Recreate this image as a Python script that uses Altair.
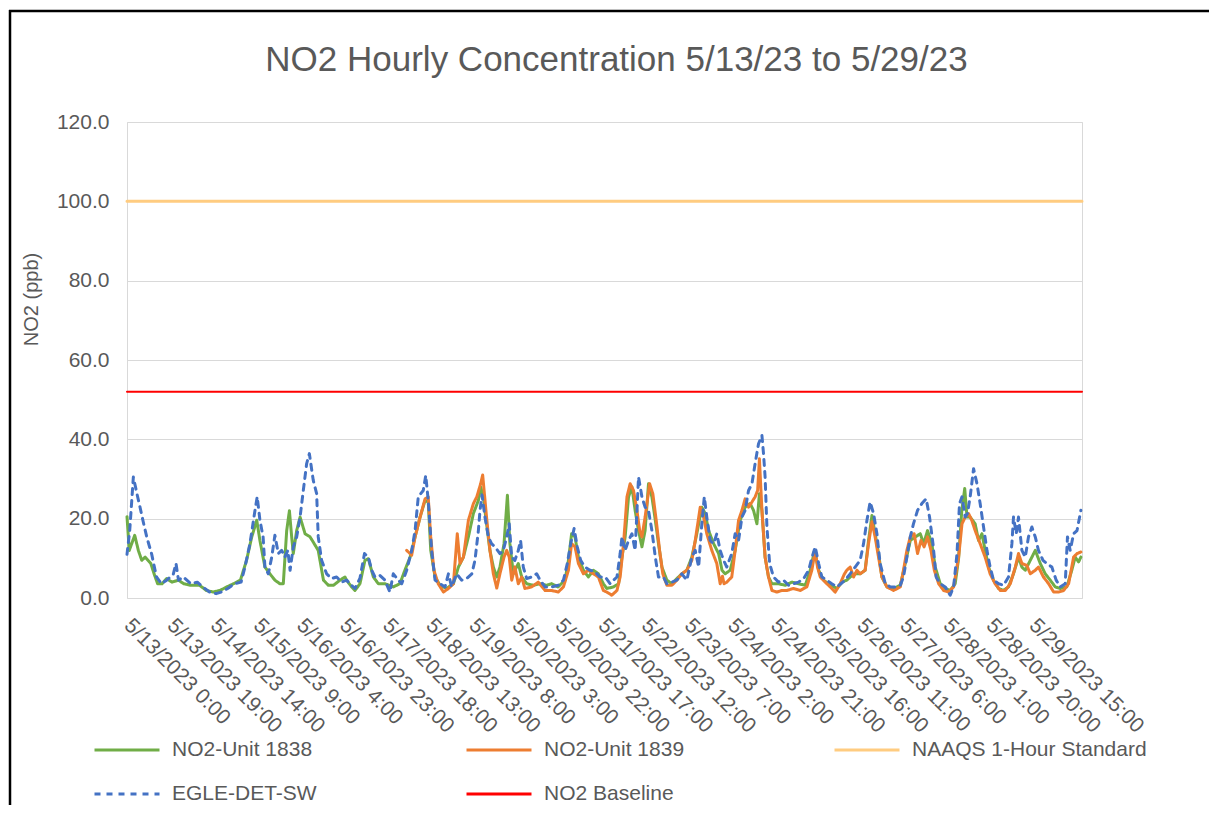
import json
import altair as alt
import pandas as pd

TITLE = "NO2 Hourly Concentration 5/13/23 to 5/29/23"
Y_TITLE = "NO2 (ppb)"
SERIES = ["NO2-Unit 1838", "NO2-Unit 1839", "NAAQS 1-Hour Standard", "EGLE-DET-SW", "NO2 Baseline"]
COLORS = ["#70AD47", "#ED7D31", "#FFCC80", "#4472C4", "#FF0000"]
DASHES = [[1, 0], [1, 0], [1, 0], [6, 6], [1, 0]]

TICK_LABELS = [
    "5/13/2023 0:00", "5/13/2023 19:00", "5/14/2023 14:00", "5/15/2023 9:00",
    "5/16/2023 4:00", "5/16/2023 23:00", "5/17/2023 18:00", "5/18/2023 13:00",
    "5/19/2023 8:00", "5/20/2023 3:00", "5/20/2023 22:00", "5/21/2023 17:00",
    "5/22/2023 12:00", "5/23/2023 7:00", "5/24/2023 2:00", "5/24/2023 21:00",
    "5/25/2023 16:00", "5/26/2023 11:00", "5/27/2023 6:00", "5/28/2023 1:00",
    "5/28/2023 20:00", "5/29/2023 15:00",
]
TICK_STEP_HOURS = 19
HOUR_DOMAIN = [0, 421]
Y_TICKS = [0, 20, 40, 60, 80, 100, 120]

# hours since 5/13/2023 0:00, values in ppb
u1838_hours = [0, 1, 3.4, 5, 6.5, 8, 10.5, 12, 13.5, 15.5, 17.5, 19.8, 22.7, 25, 28, 32, 35, 38, 41, 44, 47, 50,
               52.7, 55, 57.2, 58.6, 60.8, 63, 65.2, 67.4, 68.9, 70.4, 71.6, 72.6, 73.3, 74.8, 76.3, 78.5, 80.7,
               82.1, 84.3, 86.6, 88.8, 91, 93.9, 96.1, 96.8, 99, 100.5, 102.7, 104.9, 106.4, 108.6, 110.8, 113.7,
               117.4, 120.3, 122.5, 124.8, 127, 129.2, 131.4, 132.8, 133.9, 135.8, 138, 140.9, 143.9, 146.1, 148.3,
               150.5, 152.7, 154.9, 155.9, 157.1, 158.5, 160, 161.5, 163, 164.4, 166.2, 167.7, 168.8, 170.3, 172.5,
               174, 176.2, 179.1, 182, 185, 187.2, 190, 193.1, 194.6, 196, 197.5, 199, 201.2, 203.4, 205.6, 207.8,
               210, 211.5, 214.5, 216.7, 218.2, 219.6, 221.1, 222.6, 224, 225.5, 227, 228.4, 229.9, 231.4, 232.9,
               234.3, 235.8, 238, 240.2, 242.4, 244.6, 246.8, 249, 251.2, 253.4, 254.9, 256.4, 258.6, 260.8, 262.3,
               263.7, 265.9, 268.1, 270.3, 272.5, 274.7, 276.2, 277.7, 278.8, 279.9, 281.3, 282.8, 284.3, 287.2,
               290.2, 293.1, 296, 299, 301.2, 303.1, 304.9, 307.1, 310, 313, 315.2, 317.3, 318.8, 321, 323.2, 325.4,
               326.9, 328.4, 329.8, 331.3, 332.8, 335, 337.9, 340.9, 343.1, 345.3, 347.5, 349.7, 351.2, 352.9,
               354.8, 356.3, 358.5, 360.7, 362.9, 365.1, 366.6, 368, 369.3, 370.3, 371.7, 373.9, 375.4, 376.9,
               378.3, 379.8, 382, 384.2, 386.4, 388.6, 390.8, 393, 394.5, 396, 398.2, 400.4, 402.6, 404.8, 407,
               409.2, 411.4, 414.3, 416.5, 418, 419.5, 420.5]
u1838_values = [20.5, 12, 15.8, 12, 9.5, 10.3, 8.7, 6, 3.6, 3.6, 4.9, 4, 4.5, 3.6, 3.2, 3.2, 1.9, 1.5, 1.9, 2.8, 3.6, 4.5,
                9.5, 15.4, 19.6, 14.5, 7.8, 6.1, 4.5, 3.6, 3.6, 17, 22, 15.4, 11.2, 17, 20.4, 16.2, 15.4,
                14.1, 12, 4.5, 3.2, 3.2, 4.5, 5.3, 4.5, 2.8, 1.9, 3.6, 9.5, 9.9, 5.3, 3.6, 3.6,
                2.8, 3.6, 7, 10.3, 15.4, 20.4, 24.6, 24.2, 12, 5.3, 3.2, 2.4, 3.6, 7.8, 10.3,
                15.4, 21.3, 24.6, 28, 25.5, 18.7, 12, 7.8, 5.3, 7.8, 13.7, 25.9, 13.7, 6.1, 8.7,
                5.3, 3.6, 3.2, 3.6, 3.2, 3.6, 2.8, 4.5, 9.5, 16.2, 15.4, 10.3, 7, 5.3, 7, 6.1,
                3.6, 2.4, 2.8, 3.6, 10.3, 15.4, 25.5, 28, 22.1, 17, 12.9, 17, 28.8, 25.5, 19.6,
                13.7, 7.8, 4.5, 3.6, 4.9, 6.1, 7, 10.3, 16.2, 22.9, 21.3, 17, 13.7, 11.2, 7,
                6.1, 7, 12, 19.6, 22.9, 23.8, 22.1, 18.7, 26.3, 22.1, 10.3, 5.3, 3.6, 3.6,
                3.2, 4, 3.6, 3.2, 7, 12, 7, 4.5, 3.2, 2.4, 4, 4.5, 5.3, 6.1, 6.1, 7,
                14.5, 20.8, 16.2, 11.2, 5.3, 2.8, 2.4, 3.2, 8.7, 14.5, 15.4, 16.2, 13.7, 17,
                13.7, 7.8, 3.6, 2.4, 1.9, 3.6, 10, 22, 27.6, 20.4, 20.4, 18.7, 14.5, 16.2,
                12, 7.8, 4.5, 2.4, 1.9, 2.8, 6.1, 10.3, 7.8, 7, 9.5, 12, 8.7, 6.1, 4.5,
                2.8, 2.4, 2.8, 7, 10.3, 9.1, 10.3]

u1839_hours = [123.3, 125.5, 127, 129.2, 131.4, 132.8, 133.9, 135.3, 137.2, 139.5, 141.7, 143.9, 145.6, 146.8,
               148.3, 150.5, 152.7, 154.2, 155.9, 156.8, 158.5, 160, 161.5, 163, 164.4, 166.2, 167.4, 168.5, 169.6,
               171, 172.5, 174, 175.4, 178.4, 181.3, 184.3, 187.2, 190.1, 192.4, 194.6, 196, 197.5, 199, 201.2,
               203.4, 205.6, 207.8, 210, 211.5, 213.7, 216, 217.4, 218.9, 220.4, 221.8, 223.3, 224.8, 226, 227,
               228.4, 230.4, 231.8, 233.3, 234.8, 236.2, 238, 240.2, 242.4, 244.6, 246.8, 249, 250.5, 252.7, 254.2,
               255.6, 257.8, 260, 261.5, 262.5, 263.2, 264.4, 266.6, 268.1, 269.6, 271.1, 272.5, 274, 275.5, 276.9,
               278, 278.8, 279.9, 281.3, 282.8, 284.3, 286.5, 288.7, 290.9, 293.8, 296.8, 299.7, 301.9, 303.4,
               304.4, 305.6, 307.8, 310, 312.2, 314.4, 316.2, 317.3, 318.8, 320.3, 321.8, 323.2, 325.4, 326.9,
               328.4, 329.8, 331.3, 332.8, 335, 337.9, 340.9, 342.3, 343.8, 345.3, 347, 348.5, 350, 351.4, 352.9,
               354.4, 355.9, 357.8, 360, 362.2, 364.4, 366.6, 368.1, 369.5, 371, 372.4, 373.9, 376.1, 378.3, 380.5,
               382.7, 385, 387.2, 389.4, 391.6, 393, 394.5, 396.7, 398.2, 400.4, 401.8, 404, 406.3, 408.5, 410.7,
               412.9, 415.1, 417.3, 418.8, 420.5]
u1839_values = [12, 10.8, 15.4, 20.4, 25, 25.5, 15.4, 7, 3.6, 1.5, 2.4, 3.6, 16.2, 8.7,
                10.3, 19.6, 23.8, 25.5, 28.8, 31, 20.4, 12, 6.1, 2.5, 6.1, 10.3, 12, 10.3, 4.5,
                7.8, 3.6, 5.3, 2.4, 2.8, 4, 1.9, 1.9, 1.5, 2.8, 7, 13.7, 12.9, 8.7, 6.1,
                7, 6.1, 5.3, 1.9, 1.5, 0.7, 1.9, 5.3, 13.7, 25.5, 28.8, 27.1, 22.1, 17, 15.4,
                20.4, 28.8, 26.3, 19.6, 12, 6.1, 3.2, 3.2, 4.5, 6.1, 7, 9.5, 14.5, 22.9, 20.4,
                16.2, 12, 8.7, 3.6, 5.5, 3.6, 4, 5.3, 12, 19.6, 22.1, 25, 22.9, 24.2, 25.5,
                27.1, 35.1, 22.1, 10.3, 5.3, 1.9, 1.5, 1.9, 1.9, 2.4, 1.9, 2.8, 7, 12,
                7.8, 5.3, 4, 2.8, 1.5, 3.6, 6, 7, 7.8, 5.3, 7, 6.1, 7, 13.7,
                19.2, 15.4, 10.3, 5.3, 2.8, 1.9, 2.8, 7, 12, 15.4, 16.2, 11.2, 14.5, 12.9, 15.4,
                12, 7, 3.6, 1.9, 1.5, 2.8, 10.3, 18.7, 20.4, 21.3, 19.6, 17, 13.7, 10.3, 6.1,
                3.6, 1.9, 1.9, 3.6, 7.8, 11.2, 8.7, 8.2, 6.1, 7, 7.8, 5.3, 3.6, 1.5, 1.5,
                1.9, 3.6, 10.3, 11.2, 11.6]

egle_hours = [0, 1.2, 2.8, 4.5, 5.7, 7, 8.7, 10.9, 13, 15.2, 17.5, 20.4, 21.6, 22.7, 24.8, 28.1, 31, 33.4, 36.4,
              39.3, 41.5, 44.4, 47.4, 50.3, 52, 54.2, 56.4, 57.4, 58.6, 60, 60.8, 62.3, 63.8, 65.2, 66.7, 68.2,
              69.6, 70.9, 71.9, 73.3, 74.8, 76.3, 77.7, 79.2, 80.4, 82.1, 83.6, 84.3, 85.8, 88, 90.2, 92.4, 94.6,
              96.8, 99, 100.5, 102.7, 104.7, 106.4, 107.9, 109.3, 111.5, 113.7, 115.9, 117.4, 119.6, 121.1, 123.3,
              125.5, 127, 128.4, 130.6, 131.7, 132.8, 134.3, 135.8, 138, 140.2, 141.7, 143.1, 145.3, 147.5, 149.7,
              152, 153.4, 154.9, 155.6, 156.5, 157.8, 159.3, 160.7, 162.2, 164.4, 165.9, 167.4, 168.5, 169.6, 171,
              172.5, 173.5, 174.7, 176.2, 178.4, 180.6, 182.1, 184.3, 187.2, 190.1, 192.4, 194.1, 195.6, 197.1,
              198.5, 200, 201.9, 204.1, 206.3, 208.5, 210.8, 213, 214.5, 216, 217.4, 218.2, 219.6, 221.1, 222.6,
              224, 225.5, 227, 228.4, 229.9, 231.4, 232.9, 234.3, 236.5, 238, 240.2, 242.4, 244.6, 246.8, 249,
              250.5, 252, 253.4, 254.5, 255.6, 257.1, 258.6, 260, 261.5, 263, 264.4, 266.6, 268.1, 269.6, 271.1,
              272.5, 274, 275.5, 276.9, 278.4, 279.9, 280.6, 281.3, 282.1, 283.3, 285, 287.2, 289.4, 291.6, 293.8,
              296, 298.3, 300.5, 302, 303.4, 304.9, 306.3, 308.5, 310.7, 313, 314.7, 316.6, 318.8, 321, 323.2,
              324.7, 326.2, 327.6, 329.1, 330.6, 332, 334.3, 336.5, 338.7, 340.9, 342.3, 343.8, 345.3, 346.7,
              348.5, 350.4, 352.3, 353.8, 355.3, 356.7, 358.5, 360.7, 362.9, 364.4, 365.9, 367, 368.1, 369.5,
              370.5, 371.7, 373.2, 374.7, 376.1, 377.6, 379.1, 380.5, 382, 384.2, 386.4, 388.6, 390.1, 390.8, 392,
              393, 394.5, 396, 397.4, 398.9, 400.4, 401.8, 403.8, 405.5, 407.7, 409.6, 411.4, 413.6, 414.6, 415.8,
              417.3, 418.8, 420.5]
egle_values = [11, 17, 30.5, 26, 23, 19.6, 15.4, 11, 5.3, 3.6, 4.5, 6, 8.7, 4.5, 5.3, 3.6, 4, 2.8, 1.5,
               1.1, 1.5, 2.4, 3.6, 4, 7.8, 13.7, 22, 25.5, 19.6, 15.4, 7.8, 6.1, 10.3, 15.8, 11.2, 12,
               10.3, 12, 7, 12.9, 15.4, 20.4, 27, 33.9, 36.4, 29.7, 26.3, 15.4, 9.5, 6.1, 4.9, 5.3, 4,
               4.5, 3.2, 2.4, 5, 11.2, 10.3, 7, 5.3, 5.7, 4.5, 1.5, 6.1, 4.5, 3.6, 7,
               12, 17, 25.5, 27.1, 30.9, 24.6, 12, 4.5, 3.6, 2.8, 6.1, 2.8, 6.1, 4.5, 4.9,
               6.1, 9.5, 17, 22, 26, 20.4, 15.4, 13.7, 12.9, 11.2, 12, 15.4, 18.7, 10.3, 9.5,
               12, 14.5, 7.8, 4.9, 5.3, 6.1, 4.5, 2.8, 2.8, 3.2, 4.5, 8.7, 13.7, 17.5,
               12.9, 9.5, 7.8, 7, 6.6, 5.3, 5.3, 3.6, 4.5, 5.3, 11.2, 15.4, 12, 14.5, 16.2,
               12, 30.5, 25.5, 22.9, 22.1, 17, 10.3, 5.3, 5.3, 3.6, 4, 4.5, 6.1, 4.5, 10.3,
               12, 7.8, 18.7, 25.5, 20.4, 14.5, 13.7, 16.2, 12, 9.5, 7.8, 11.2, 16.2, 14.5, 20.4,
               22.1, 27.1, 28.8, 33.9, 38.9, 41, 36.4, 30.5, 17.9, 8.7, 5.3, 4, 4.5, 3.2, 3.6,
               4, 4.9, 7, 10.3, 12.9, 8.7, 5.3, 4.5, 3.6, 2.8, 3.6, 4.5, 6.1, 7.8, 9.5,
               13.7, 19.6, 24.2, 21.3, 16.2, 8.7, 3.6, 2.8, 2.8, 3.2, 5.3, 10.3, 15.4, 18.7,
               22.1, 23.8, 25, 20.4, 13.7, 5.3, 3.6, 2.8, 0.7, 2.8, 11.2, 23.8, 25.5, 20.4,
               21.3, 25.5, 32.6, 28.8, 23.8, 17.9, 12, 7.8, 4.5, 3.6, 3.2, 5.3, 13.7, 20.4, 16.2,
               20.4, 12, 10.3, 15.4, 17.9, 15.4, 12, 9.5, 8.7, 7.8, 4.5, 2.8, 3.6, 15.4, 12,
               16.2, 17, 22.1]

NAAQS_VALUE = 100.0
BASELINE_VALUE = 52.0

rows = []
for h, v in zip(u1838_hours, u1838_values):
    rows.append({"hour": h, "value": v, "series": SERIES[0]})
for h, v in zip(u1839_hours, u1839_values):
    rows.append({"hour": h, "value": v, "series": SERIES[1]})
for h in HOUR_DOMAIN:
    rows.append({"hour": h, "value": NAAQS_VALUE, "series": SERIES[2]})
for h, v in zip(egle_hours, egle_values):
    rows.append({"hour": h, "value": v, "series": SERIES[3]})
for h in HOUR_DOMAIN:
    rows.append({"hour": h, "value": BASELINE_VALUE, "series": SERIES[4]})
df = pd.DataFrame(rows)

FONT = "Liberation Sans"
TEXT_COLOR = "#595959"

legend = alt.Legend(
    title=None, orient="none", legendX=-34, legendY=594, columns=3, direction="horizontal",
    symbolType="stroke", symbolSize=4225, symbolStrokeWidth=3,
    labelFont=FONT, labelFontSize=21, labelColor=TEXT_COLOR, labelLimit=400,
    labelOffset=11, rowPadding=-23, columnPadding=143, gridAlign="each", padding=0,
)

x_axis = alt.Axis(
    values=[TICK_STEP_HOURS * i for i in range(len(TICK_LABELS))],
    labelExpr=json.dumps(TICK_LABELS) + "[round(datum.value / %d)]" % TICK_STEP_HOURS,
    labelAngle=45, labelAlign="left", labelBaseline="middle", labelPadding=24,
    labelOverlap=False, labelFlush=False, labelBound=False,
    grid=False, ticks=False, domain=False, title=None,
)
y_axis = alt.Axis(
    values=Y_TICKS, format=".1f", labelPadding=18, ticks=False, domain=False,
    title=Y_TITLE, titleX=-86, titleY=177, titleFontSize=20, titleFontWeight="normal",
    titleColor=TEXT_COLOR, titleFont=FONT,
)

base = alt.Chart(df).encode(
    x=alt.X("hour:Q", scale=alt.Scale(domain=HOUR_DOMAIN, nice=False, zero=False), axis=x_axis),
    y=alt.Y("value:Q", scale=alt.Scale(domain=[0, 120], nice=False), axis=y_axis),
    color=alt.Color("series:N", scale=alt.Scale(domain=SERIES, range=COLORS), legend=legend),
    strokeDash=alt.StrokeDash("series:N", scale=alt.Scale(domain=SERIES, range=DASHES), legend=legend),
)

layers = []
for name in SERIES:
    width = 2 if name == "NO2 Baseline" else 3
    layers.append(
        base.transform_filter(alt.datum.series == name).mark_line(
            strokeWidth=width, strokeCap="round", strokeJoin="round"
        )
    )

frame_data = alt.Data(values=[{"k": 1}])
frame_left = alt.Chart(frame_data).mark_rule(color="black", strokeWidth=2.5).encode(
    x=alt.value(-117), y=alt.value(-112), y2=alt.value(720)
)
frame_top = alt.Chart(frame_data).mark_rule(color="black", strokeWidth=2.5).encode(
    x=alt.value(-118), x2=alt.value(1100), y=alt.value(-111)
)

chart = alt.layer(*layers, frame_left, frame_top).properties(
    width=955, height=476,
    autosize=alt.AutoSizeParams(type="none"),
    padding={"left": 119, "top": 114, "right": 127, "bottom": 207},
    background="white",
    title=alt.TitleParams(TITLE, font=FONT, fontSize=35, fontWeight="normal", color=TEXT_COLOR,
                          anchor="middle", frame="group", dx=12, offset=-97, baseline="alphabetic"),
).configure_view(
    stroke="#D9D9D9", strokeWidth=1
).configure_axis(
    labelFont=FONT, labelFontSize=21, labelColor=TEXT_COLOR,
    gridColor="#D9D9D9", gridWidth=1,
)

chart.save("out.html", embed_options={"renderer": "svg", "actions": False})
